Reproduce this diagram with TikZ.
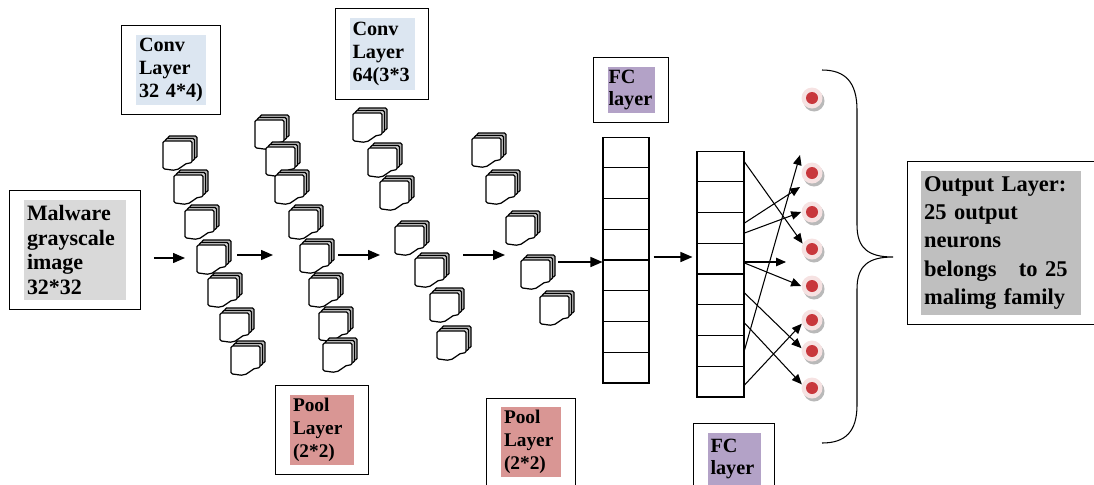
\documentclass[tikz,border=0pt]{standalone}
\usepackage{fontspec}
\setmainfont{Liberation Serif}
\usetikzlibrary{arrows.meta,calc,fit,shadows}

\definecolor{imggray}{RGB}{217,217,217}
\definecolor{convblue}{RGB}{220,230,241}
\definecolor{poolred}{RGB}{217,150,148}
\definecolor{fcpurple}{RGB}{179,162,199}
\definecolor{outgray}{RGB}{191,191,191}
\definecolor{dotred}{RGB}{200,55,60}
\definecolor{halo}{RGB}{246,226,226}

\newcommand\tagfont[2]{\fontsize{#1}{#2}\selectfont\bfseries}

\tikzset{
  tag/.style={fill=#1, align=left, inner xsep=0.06cm, inner ysep=0.06cm},
  frame/.style={draw, line width=0.6pt, inner xsep=0.28cm, inner ysep=0.18cm},
  flow/.style={-{Triangle[length=0.24cm,width=0.2cm]}, line width=0.8pt},
  link/.style={-{Triangle[length=0.2cm,width=0.17cm]}, line width=0.6pt},
  neuron/.style={circle, minimum size=0.42cm, inner sep=0pt, fill=halo,
    drop shadow={shadow xshift=0.04cm, shadow yshift=-0.06cm, fill=gray!55, opacity=1},
    path picture={\fill[dotred] (path picture bounding box.center) circle (0.12cm);}},
  fmap/.pic={
    \foreach \d/\col in {5/gray!55, 2.5/gray!35, 0/white}
      \draw[fill=\col, line width=0.7pt, rounded corners=0.8pt, shift={(\d,-\d)}] (0,0) -- (29,0) -- (29,22)
        .. controls (21,21) and (17,30) .. (9,29) .. controls (5,28.5) and (2,28) .. (0,28) -- cycle;
  }
}

\begin{document}
\begin{tikzpicture}[x=0.02cm, y=-0.02cm]
	\useasboundingbox (0,0) rectangle (1094,484);
	%%%%% START %%%%%
	% labelled boxes
	\node[tag=imggray, text width=1.92cm, minimum height=2cm, font=\tagfont{12.5}{14.2}] (img) at (75,250) {Malware\\grayscale\\image\\32*32};
	\node[tag=convblue, text width=1.28cm, minimum height=1.42cm, font=\tagfont{11.5}{13}] (convA) at (171,70) {Conv\\Layer\\32 4*4)};
	\node[tag=convblue, text width=1.18cm, minimum height=1.44cm, font=\tagfont{11.5}{13}] (convB) at (382,54) {Conv\\Layer\\64(3*3};
	\node[tag=poolred, text width=1.16cm, minimum height=1.4cm, font=\tagfont{11}{13}] (poolA) at (322,430) {Pool\\Layer\\(2*2)};
	\node[tag=poolred, text width=1.08cm, minimum height=1.38cm, font=\tagfont{11}{13}] (poolB) at (531,442) {Pool\\Layer\\(2*2)};
	\node[tag=fcpurple, text width=0.9cm, inner xsep=0.02cm, minimum height=0.9cm, font=\tagfont{11.5}{12.5}] (fcTop) at (631,90) {FC\\layer};
	\node[tag=fcpurple, text width=0.94cm, minimum height=1.06cm, font=\tagfont{11.5}{12.5}] (fcBot) at (734,459) {FC\\layer};
	\node[tag=outgray, text width=3.08cm, minimum height=2.88cm, font=\tagfont{12.8}{16}] (out) at (1001,243) {Output Layer:\\25 output\\neurons\\belongs~~ to 25\\malimg family};
	\foreach \b in {img,convA,convB,poolA,poolB,fcTop,fcBot}
		\node[frame, fit=(\b)] (\b F) {};
	\node[frame, inner xsep=0.26cm, fit=(out)] (outF) {};
	
	% feature maps
	\foreach \px/\py in {163/141, 174/175, 185/210, 197/245, 208/278, 220/313, 231/346}
		\pic at (\px,\py) {fmap};
	\foreach \px/\py in {255/120, 266/147, 275/175, 289/210, 300/244, 309/278, 319/312, 323/343}
		\pic at (\px,\py) {fmap};
	\foreach \px/\py in {353/113, 368/148, 380/181, 395/226, 415/258, 430/293, 437/331}
		\pic at (\px,\py) {fmap};
	\foreach \px/\py in {472/138, 486/175, 506/216, 521/260, 540/296}
		\pic at (\px,\py) {fmap};
	
	% fully connected columns
	\node[draw, line width=0.6pt, minimum width=0.92cm, minimum height=4.92cm, inner sep=0pt] (fcA) at (626,260) {};
	\node[draw, line width=0.6pt, minimum width=0.94cm, minimum height=4.92cm, inner sep=0pt] (fcB) at (720.5,274) {};
	\foreach \k in {1,...,7} {
		\draw[line width=0.6pt] ($(fcA.north west)!\k/8!(fcA.south west)$) -- ($(fcA.north east)!\k/8!(fcA.south east)$);
		\draw[line width=0.6pt] ($(fcB.north west)!\k/8!(fcB.south west)$) -- ($(fcB.north east)!\k/8!(fcB.south east)$);
	}
	
	% output neurons
	\foreach \n/\yy in {1/98, 2/173, 3/212, 4/249, 5/286, 6/320, 7/351, 8/388}
		\node[neuron] (o\n) at (812,\yy) {};
	
	% arrows
	\coordinate (c1in) at (185,258);
	\coordinate (c1out) at (237,255);
	\coordinate (p1in) at (273,255);
	\coordinate (p1out) at (338,255);
	\coordinate (c2in) at (380,255);
	\coordinate (c2out) at (463,255);
	\coordinate (p2in) at (505,255);
	\coordinate (p2out) at (558,262);
	\draw[flow, shorten <=0.26cm] (imgF.east |- c1in) -- (c1in);
	\draw[flow] (c1out) -- (p1in);
	\draw[flow] (p1out) -- (c2in);
	\draw[flow] (c2out) -- (p2in);
	\draw[flow] (p2out) -- (fcA.west |- p2out);
	\draw[flow, shorten <=0.08cm, shorten >=0.08cm] (fcA.east |- 0,257) -- (fcB.west |- 0,257);
	
	\coordinate (h1) at (800,187);
	\coordinate (h2) at (786,262);
	\coordinate (h3) at (800,155);
	\foreach \ya/\tip in {162/o4.150, 223/h1, 233/o3.west, 262/h2, 263/o5.west, 293/o7.165, 323/o8.160, 350/h3, 385/o6.200}
		\draw[link] (fcB.east |- 0,\ya) -- (\tip);
	
	% brace over the outputs
	\draw[line width=0.6pt] (822,70) .. controls (845,70) and (857,82) .. (857,110) -- (857,225)
		.. controls (857,248) and (868,257) .. (893,257) .. controls (868,257) and (857,266) .. (857,289)
		-- (857,405) .. controls (857,432) and (845,443) .. (822,443);
	%%%%% END %%%%%
\end{tikzpicture}
\end{document}
